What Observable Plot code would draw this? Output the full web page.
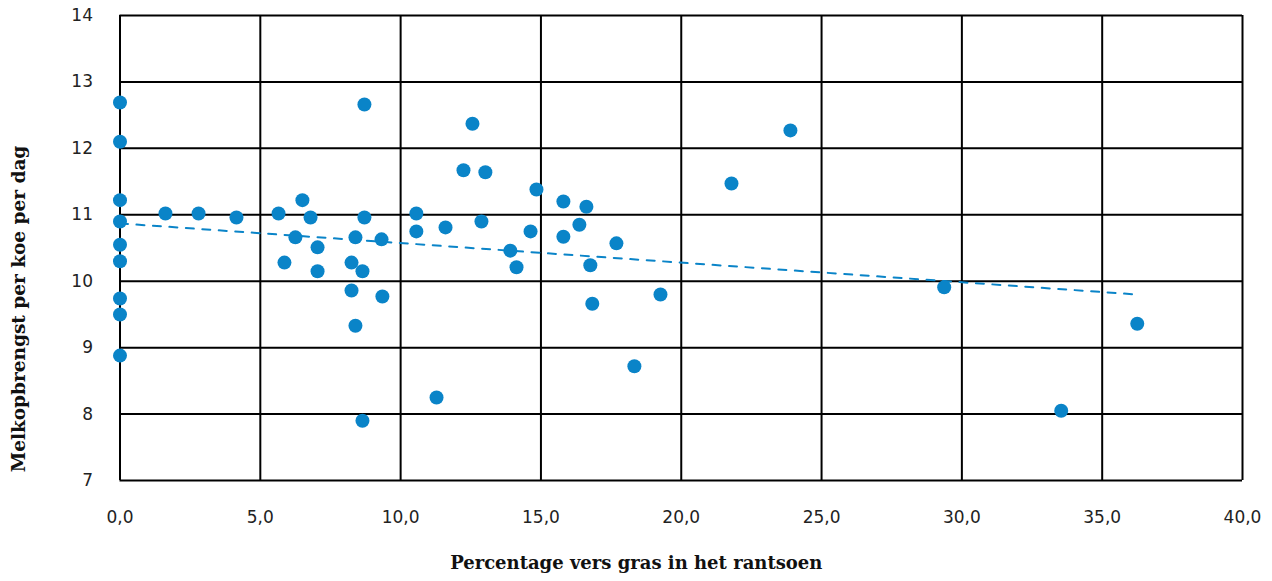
<!DOCTYPE html>
<html>
<head>
<meta charset="utf-8">
<script src="https://cdn.jsdelivr.net/npm/d3@7"></script>
<script src="https://cdn.jsdelivr.net/npm/@observablehq/plot@0.6"></script>
<style>
  html, body { margin: 0; padding: 0; background: #fff; }
  #chart svg { display: block; }
</style>
</head>
<body>
<div id="chart"></div>
<script>
// Percentage vers gras in het rantsoen
const grassPct = [
  0, 0, 0, 0, 0, 0, 0, 0, 0,
  1.62, 2.80, 4.15, 5.65, 5.86, 6.25, 6.50, 6.79, 7.04, 7.04,
  8.25, 8.25, 8.39, 8.39, 8.71, 8.64, 8.71, 8.64, 9.32, 9.35,
  10.56, 10.56, 11.28, 11.60, 12.24, 12.56, 13.02, 12.88, 13.91, 14.13,
  14.63, 14.84, 15.80, 15.80, 16.37, 16.62, 16.76, 16.83, 17.69, 18.33,
  19.26, 21.79, 23.89, 29.37, 33.54, 36.25
];
// Melkopbrengst per koe per dag
const milkYield = [
  12.69, 12.10, 11.22, 10.90, 10.55, 10.30, 9.74, 9.50, 8.88,
  11.02, 11.02, 10.96, 11.02, 10.28, 10.66, 11.22, 10.96, 10.51, 10.15,
  10.28, 9.86, 10.66, 9.33, 12.66, 10.15, 10.96, 7.90, 10.63, 9.77,
  11.02, 10.75, 8.25, 10.81, 11.67, 12.37, 11.64, 10.90, 10.46, 10.21,
  10.75, 11.38, 11.20, 10.67, 10.85, 11.12, 10.24, 9.66, 10.57, 8.72,
  9.80, 11.47, 12.27, 9.91, 8.05, 9.36
];
// Linear trend line (endpoints)
const trendX = [0, 36.25];
const trendY = [10.87, 9.80];
const xTicks = [0, 5, 10, 15, 20, 25, 30, 35, 40];
const yTicks = [7, 8, 9, 10, 11, 12, 13, 14];
const xTitle = "Percentage vers gras in het rantsoen";
const yTitle = "Melkopbrengst per koe per dag";

const data = grassPct.map((x, i) => ({x, y: milkYield[i]}));
const trend = trendX.map((x, i) => ({x, y: trendY[i]}));
const dotColor = "#0a84c8";
const tickFont = "'DejaVu Sans', sans-serif";
const titleFont = "'DejaVu Serif', serif";

const chart = Plot.plot({
  width: 1272,
  height: 581,
  marginLeft: 119.5,
  marginRight: 30,
  marginTop: 15,
  marginBottom: 101,
  style: {fontFamily: tickFont, fontSize: "17px", color: "#222", background: "#fff"},
  x: {domain: [0, 40]},
  y: {domain: [7, 14]},
  marks: [
    Plot.ruleX(xTicks, {stroke: "#000", strokeWidth: 2}),
    Plot.ruleY(yTicks, {stroke: "#000", strokeWidth: 2}),
    Plot.axisX(xTicks, {tickSize: 0, tickPadding: 30, label: null,
      tickFormat: d => d.toFixed(1).replace(".", ","), fontSize: 17}),
    Plot.axisY(yTicks, {tickSize: 0, tickPadding: 27, label: null,
      tickFormat: d => String(d), fontSize: 17}),
    Plot.line(trend, {x: "x", y: "y", stroke: dotColor,
      strokeWidth: 2, strokeDasharray: "8,8.5"}),
    Plot.dot(data, {x: "x", y: "y", r: 7, fill: dotColor, stroke: "none"}),
    Plot.text([xTitle], {frameAnchor: "bottom", dx: -45, dy: 88, fontFamily: titleFont,
      fontWeight: "bold", fontSize: 18, fill: "#111"}),
    Plot.text([yTitle], {frameAnchor: "left", dx: -101, dy: 61, rotate: -90,
      textAnchor: "middle", fontFamily: titleFont,
      fontWeight: "bold", fontSize: 18.5, fill: "#111"})
  ]
});
document.getElementById("chart").append(chart);
</script>
</body>
</html>
